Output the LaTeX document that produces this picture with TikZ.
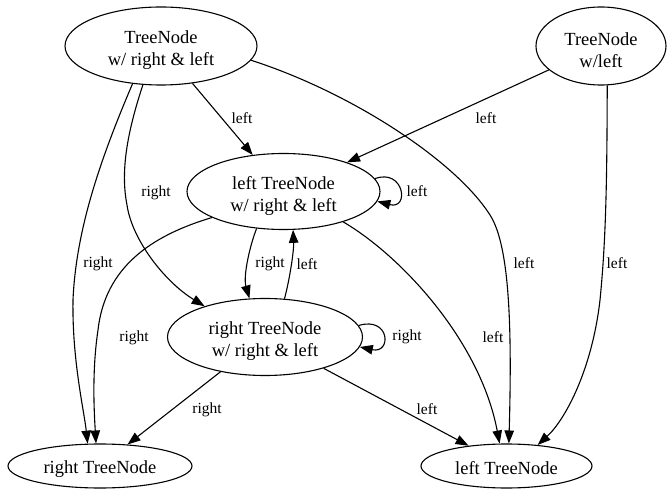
\documentclass[tikz,border=0pt]{standalone}
\usepackage{fontspec}
\setmainfont{Liberation Serif}
\usetikzlibrary{shapes.geometric,arrows.meta}
\tikzset{
  tn/.style={draw, ellipse, line width=1.1pt, inner sep=0pt, align=center,
             font=\fontsize{18.5pt}{22pt}\selectfont},
  lbl/.style={inner sep=0pt, font=\fontsize{15.5pt}{18pt}\selectfont},
  edge/.style={line width=1.1pt, -{Triangle[length=13pt,width=9.5pt]}}
}
\begin{document}
\begin{tikzpicture}[x=1pt,y=-1pt]
\useasboundingbox (0,0) rectangle (667,489);
% nodes
\node[tn, minimum width=192pt, minimum height=78pt] (A) at (161,46)
  {\rule{0pt}{21pt}TreeNode\\w/ right \& left};
\node[tn, minimum width=130pt, minimum height=78pt] (B) at (601,46)
  {\rule{0pt}{21pt}TreeNode\\w/left};
\node[tn, minimum width=193pt, minimum height=76pt] (C) at (283.5,191.5)
  {\rule{0pt}{21pt}left TreeNode\\w/ right \& left};
\node[tn, minimum width=195pt, minimum height=77pt] (D) at (265,337)
  {\rule{0pt}{21pt}right TreeNode\\w/ right \& left};
\node[tn, minimum width=171pt, minimum height=44pt] (E) at (506.5,466)
  {\rule{0pt}{18pt}left TreeNode};
\node[tn, minimum width=184pt, minimum height=44pt] (F) at (100,466)
  {\rule{0pt}{18pt}right TreeNode};
% edges
\draw[edge] (A) -- (C);
\draw[edge] (B) -- (C);
\draw[edge] (D) -- (F);
\draw[edge] (D) -- (E);
\draw[edge] (C.234) .. controls (250,245) and (243,276) .. (D.112);
\draw[edge] (D.63) .. controls (290,278) and (294,250) .. (C.284);
\draw[edge] (C.8) .. controls (404,168) and (410,210) .. (C.-6);
\draw[edge] (D.7) .. controls (390,316) and (392,354) .. (D.-6);
\draw[edge] (A.233) .. controls (100,160) and (76,230) .. (73,300)
  .. controls (72,360) and (84,410) .. (F.119);
\draw[edge] (A.245) .. controls (128,130) and (120,170) .. (127,205)
  .. controls (132,240) and (165,282) .. (D.153);
\draw[edge] (C.200) .. controls (150,236) and (105,268) .. (98,330)
  .. controls (92,370) and (94,410) .. (F.100);
\draw[edge] (A.-9) .. controls (350,92) and (455,160) .. (490,215)
  .. controls (510,246) and (512,330) .. (E.84);
\draw[edge] (C.-27) .. controls (400,255) and (480,340) .. (E.107);
\draw[edge] (B.-81) .. controls (607,180) and (606,240) .. (600,300)
  .. controls (592,370) and (565,420) .. (E.34);
% labels
\node[lbl] (lAC) at (242,118) {left};
\node[lbl] (lBC) at (486,118) {left};
\node[lbl] (lAD) at (156,193) {right};
\node[lbl] (lAF) at (98,264) {right};
\node[lbl] (lCD) at (270,264) {right};
\node[lbl] (lDC) at (307,264) {left};
\node[lbl] (lCC) at (417,191) {left};
\node[lbl] (lDD) at (407,337) {right};
\node[lbl] (lCF) at (134,338) {right};
\node[lbl] (lAE) at (524,263) {left};
\node[lbl] (lBE) at (617,263) {left};
\node[lbl] (lCE) at (493,337) {left};
\node[lbl] (lDF) at (207,410) {right};
\node[lbl] (lDE) at (427,409) {left};
\end{tikzpicture}
\end{document}
